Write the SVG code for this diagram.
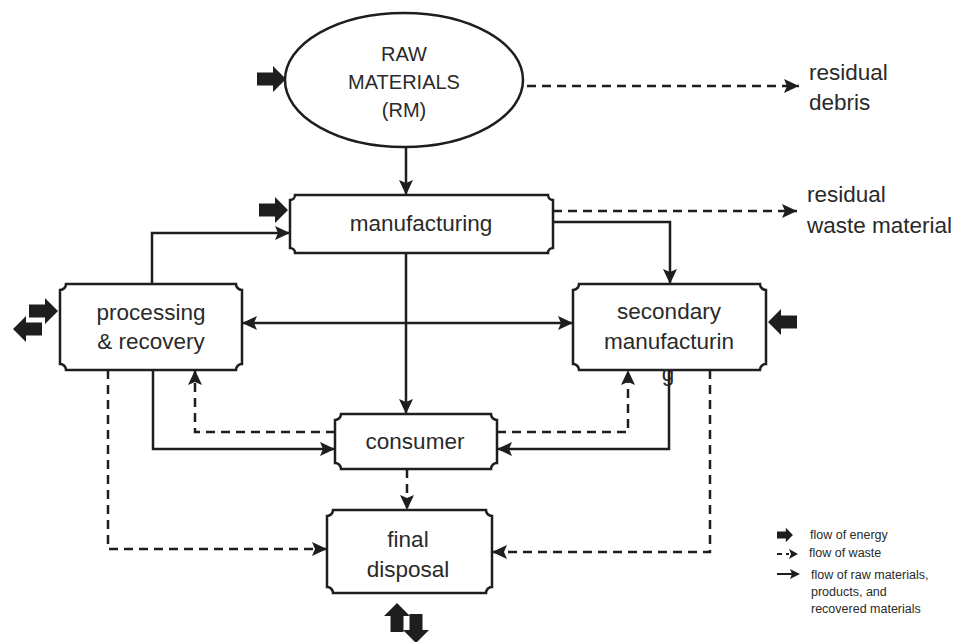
<svg xmlns="http://www.w3.org/2000/svg" width="959" height="642" viewBox="0 0 959 642">
<defs>
<style>
.box{fill:#fff;stroke:#1e1e1e;stroke-width:2.5}
.t{font-family:"Liberation Sans",Arial,sans-serif;font-size:22.5px;fill:#2a2a2a;text-anchor:middle}
.tl{font-family:"Liberation Sans",Arial,sans-serif;font-size:22.5px;fill:#2a2a2a}
.lg{font-family:"Liberation Sans",Arial,sans-serif;font-size:12.5px;fill:#2a2a2a}
.s{fill:none;stroke:#1e1e1e;stroke-width:2.5}
.d{fill:none;stroke:#1e1e1e;stroke-width:2.5;stroke-dasharray:9 6}
.e{fill:#1e1e1e}
</style>
<marker id="a" markerUnits="userSpaceOnUse" markerWidth="16" markerHeight="14" refX="15" refY="7" orient="auto">
<path d="M0,0 L15,7 L0,14 L3,7 Z" fill="#1e1e1e"/>
</marker>
<marker id="as" markerUnits="userSpaceOnUse" markerWidth="16" markerHeight="14" refX="15" refY="7" orient="auto-start-reverse">
<path d="M0,0 L15,7 L0,14 L3,7 Z" fill="#1e1e1e"/>
</marker>
<path id="fat" d="M0,-6.5 H16 V-13 L29,0 L16,13 V6.5 H0 Z"/>
</defs>

<g id="raw-materials">
<ellipse cx="404" cy="80" rx="119" ry="67" class="box"/>
<text class="t" style="font-size:20px" x="404" y="61">RAW</text>
<text class="t" style="font-size:20px" x="404" y="89">MATERIALS</text>
<text class="t" style="font-size:20px" x="404" y="117">(RM)</text>
</g>

<g id="manufacturing">
<path class="box" d="M295,195 H548 A5 5 0 0 0 553,200 V248 A5 5 0 0 0 548,253 H295 A5 5 0 0 0 290,248 V200 A5 5 0 0 0 295,195 Z"/>
<text class="t" x="421" y="231">manufacturing</text>
</g>

<g id="processing-recovery">
<path class="box" d="M66,284 H236 A6 6 0 0 0 242,290 V364 A6 6 0 0 0 236,370 H66 A6 6 0 0 0 60,364 V290 A6 6 0 0 0 66,284 Z"/>
<text class="t" x="151" y="320">processing</text>
<text class="t" x="151" y="349">&amp; recovery</text>
</g>

<g id="secondary-manufacturing">
<path class="box" d="M579,284 H760 A6 6 0 0 0 766,290 V364 A6 6 0 0 0 760,370 H579 A6 6 0 0 0 573,364 V290 A6 6 0 0 0 579,284 Z"/>
<text class="t" x="669" y="319">secondary</text>
<text class="t" x="669" y="349">manufacturin</text>
<text class="t" x="668" y="381">g</text>
</g>

<g id="consumer">
<path class="box" d="M341,414 H491 A6 6 0 0 0 497,420 V463 A6 6 0 0 0 491,469 H341 A6 6 0 0 0 335,463 V420 A6 6 0 0 0 341,414 Z"/>
<text class="t" x="415" y="449">consumer</text>
</g>

<g id="final-disposal">
<path class="box" d="M333,510 H486 A6 6 0 0 0 492,516 V587 A6 6 0 0 0 486,593 H333 A6 6 0 0 0 327,587 V516 A6 6 0 0 0 333,510 Z"/>
<text class="t" x="408" y="547">final</text>
<text class="t" x="408" y="577">disposal</text>
</g>

<g id="residual-debris">
<text class="tl" x="809" y="80">residual</text>
<text class="tl" x="809" y="110">debris</text>
</g>
<g id="residual-waste">
<text class="tl" x="807" y="202">residual</text>
<text class="tl" x="807" y="233">waste material</text>
</g>

<g id="connectors">
<path class="s" d="M406,147 V195" marker-end="url(#a)"/>
<path class="d" d="M527,86 H799" marker-end="url(#a)"/>
<path class="d" d="M553,211 H797" marker-end="url(#a)"/>
<path class="s" d="M553,222 H670 V284" marker-end="url(#a)"/>
<path class="s" d="M406,253 V414" marker-end="url(#a)"/>
<path class="s" d="M152,284 V233 H290" marker-end="url(#a)"/>
<path class="s" d="M242,323 H573" marker-start="url(#as)" marker-end="url(#as)"/>
<path class="s" d="M153,370 V449 H335" marker-end="url(#a)"/>
<path class="s" d="M669,370 V449 H497" marker-end="url(#a)"/>
<path class="d" d="M335,432 H195 V370" marker-end="url(#a)"/>
<path class="d" d="M497,432 H628 V370" marker-end="url(#a)"/>
<path class="d" d="M407,469 V510" marker-end="url(#a)"/>
<path class="d" d="M108,370 V549 H327" marker-end="url(#a)"/>
<path class="d" d="M710,370 V552 H492" marker-end="url(#a)"/>
</g>

<g id="energy-arrows" class="e">
<use href="#fat" transform="translate(257,79)"/>
<use href="#fat" transform="translate(259,210)"/>
<use href="#fat" transform="translate(29,311)"/>
<use href="#fat" transform="translate(42,329) scale(-1,1)"/>
<use href="#fat" transform="translate(797,322) scale(-1,1)"/>
<use href="#fat" transform="translate(397,632) rotate(-90)"/>
<use href="#fat" transform="translate(416,614) rotate(90)"/>
</g>

<g id="legend">
<use href="#fat" class="e" transform="translate(777,535) scale(0.55)"/>
<text class="lg" x="810" y="539">flow of energy</text>
<path d="M777,554 H782 M786,554 H789" stroke="#1e1e1e" stroke-width="2"/>
<path d="M789,549 L798,554 L789,559 L791,554 Z" fill="#1e1e1e"/>
<text class="lg" x="809" y="557">flow of waste</text>
<path d="M777,574 H792" stroke="#1e1e1e" stroke-width="2"/>
<path d="M790,569 L800,574 L790,579 L792,574 Z" fill="#1e1e1e"/>
<text class="lg" x="811" y="579">flow of raw materials,</text>
<text class="lg" x="811" y="596">products, and</text>
<text class="lg" x="811" y="613">recovered materials</text>
</g>
</svg>
